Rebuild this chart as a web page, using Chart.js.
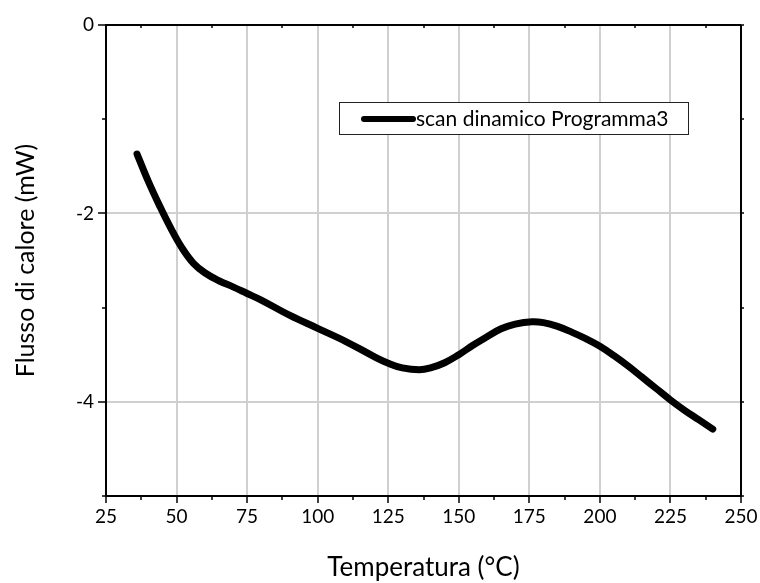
<!DOCTYPE html>
<html>
<head>
<meta charset="utf-8">
<script src="https://cdn.jsdelivr.net/npm/chart.js@4/dist/chart.umd.min.js"></script>
<style>
  html, body { margin: 0; padding: 0; background: #fff; }
  #wrap { width: 760px; height: 583px; }
</style>
</head>
<body>
<div id="wrap"><canvas id="dscChart" width="760" height="583"></canvas></div>
<script>
// Temperature (°C) and heat flow (mW) of the dynamic scan
const temperature = [36, 40, 44, 48, 52, 56, 60, 65, 70, 75, 80, 90, 100, 110, 120, 125, 130, 136,
  140, 145, 150, 155, 160, 165, 170, 176, 180, 185, 190, 195, 200, 205, 210, 215, 220, 225, 230, 235, 240];
const heatFlow = [-1.37, -1.66, -1.92, -2.16, -2.37, -2.53, -2.63, -2.715, -2.78, -2.85, -2.92, -3.08,
  -3.22, -3.36, -3.52, -3.59, -3.64, -3.66, -3.64, -3.585, -3.50, -3.40, -3.31, -3.225, -3.175, -3.15,
  -3.16, -3.20, -3.26, -3.33, -3.41, -3.51, -3.62, -3.74, -3.86, -3.98, -4.09, -4.19, -4.29];
const seriesName = 'scan dinamico Programma3';

const xTicks = [25, 50, 75, 100, 125, 150, 175, 200, 225, 250];
const yTickLabels = [0, -2, -4];

const FONT = 'Lato, "Open Sans", sans-serif';

// frame, minor ticks and the boxed legend
const framePlugin = {
  id: 'frame',
  afterDraw(chart) {
    const ctx = chart.ctx;
    const a = chart.chartArea;
    const xs = chart.scales.x, ys = chart.scales.y;
    ctx.save();
    ctx.strokeStyle = '#000';
    ctx.lineWidth = 2;
    ctx.beginPath();
    ctx.moveTo(a.left, a.top); ctx.lineTo(a.right, a.top);
    ctx.moveTo(a.right, a.top); ctx.lineTo(a.right, a.bottom);
    ctx.stroke();

    ctx.lineWidth = 1.5;
    ctx.beginPath();
    // minor x ticks
    for (let v = 37.5; v < 250; v += 25) {
      const px = Math.round(xs.getPixelForValue(v));
      ctx.moveTo(px, a.bottom); ctx.lineTo(px, a.bottom + 4);
      ctx.moveTo(px, a.top); ctx.lineTo(px, a.top + 3);
    }
    // minor y ticks + right side ticks
    for (let v = -5; v <= 0; v += 1) {
      const py = Math.round(ys.getPixelForValue(v));
      if (v % 2 !== 0) { ctx.moveTo(a.left, py); ctx.lineTo(a.left - 4, py); }
      ctx.moveTo(a.right, py); ctx.lineTo(a.right + 3, py);
    }
    ctx.stroke();

    // legend
    const lx = 339, ly = 102, lw = 349, lh = 32;
    ctx.fillStyle = '#fff';
    ctx.fillRect(lx, ly, lw, lh);
    ctx.strokeStyle = '#222';
    ctx.lineWidth = 1;
    ctx.strokeRect(lx + 0.5, ly + 0.5, lw, lh);
    ctx.strokeStyle = '#000';
    ctx.lineWidth = 6;
    ctx.lineCap = 'round';
    ctx.beginPath();
    ctx.moveTo(364, ly + lh / 2 + 1); ctx.lineTo(413, ly + lh / 2 + 1);
    ctx.stroke();
    ctx.fillStyle = '#000';
    ctx.font = '21px ' + FONT;
    ctx.textBaseline = 'middle';
    ctx.fillText(chart.data.datasets[0].label, 416, ly + lh / 2 + 1);
    ctx.restore();
  }
};

new Chart(document.getElementById('dscChart'), {
  type: 'line',
  data: {
    labels: temperature,
    datasets: [{
      label: seriesName,
      data: temperature.map((t, i) => ({ x: t, y: heatFlow[i] })),
      borderColor: '#000',
      borderWidth: 7,
      borderCapStyle: 'round',
      borderJoinStyle: 'round',
      pointRadius: 0,
      tension: 0.4,
      fill: false
    }]
  },
  options: {
    responsive: false,
    animation: false,
    layout: { padding: { left: 0, right: 19, top: 25, bottom: 0 } },
    plugins: { legend: { display: false }, tooltip: { enabled: false } },
    scales: {
      x: {
        type: 'linear',
        min: 25, max: 250,
        afterFit(scale) { scale.height = 87; },
        afterBuildTicks(scale) { scale.ticks = xTicks.map(v => ({ value: v })); },
        border: { display: true, color: '#000', width: 2 },
        grid: {
          color: c => (c.tick && c.tick.value > 25 && c.tick.value < 250) ? '#d0d0d0' : 'rgba(0,0,0,0)',
          lineWidth: 2,
          tickColor: '#000',
          tickLength: 7,
          tickWidth: 1.5
        },
        ticks: { color: '#000', font: { family: FONT, size: 19 }, padding: 2, maxRotation: 0 },
        title: { display: true, text: 'Temperatura (°C)', color: '#000', font: { family: FONT, size: 26 }, padding: { top: 14, bottom: 0 } }
      },
      y: {
        type: 'linear',
        min: -5, max: 0,
        afterFit(scale) { scale.width = 106; },
        afterBuildTicks(scale) { scale.ticks = yTickLabels.map(v => ({ value: v })); },
        border: { display: true, color: '#000', width: 2 },
        grid: {
          color: c => (c.tick && c.tick.value < 0 && c.tick.value > -5) ? '#d0d0d0' : 'rgba(0,0,0,0)',
          lineWidth: 2,
          tickColor: '#000',
          tickLength: 8,
          tickWidth: 1.5
        },
        ticks: { color: '#000', font: { family: FONT, size: 19 }, padding: 4 },
        title: { display: true, text: 'Flusso di calore (mW)', color: '#000', font: { family: FONT, size: 25 }, padding: { top: 11, bottom: 10 } }
      }
    }
  },
  plugins: [framePlugin]
});
</script>
</body>
</html>
